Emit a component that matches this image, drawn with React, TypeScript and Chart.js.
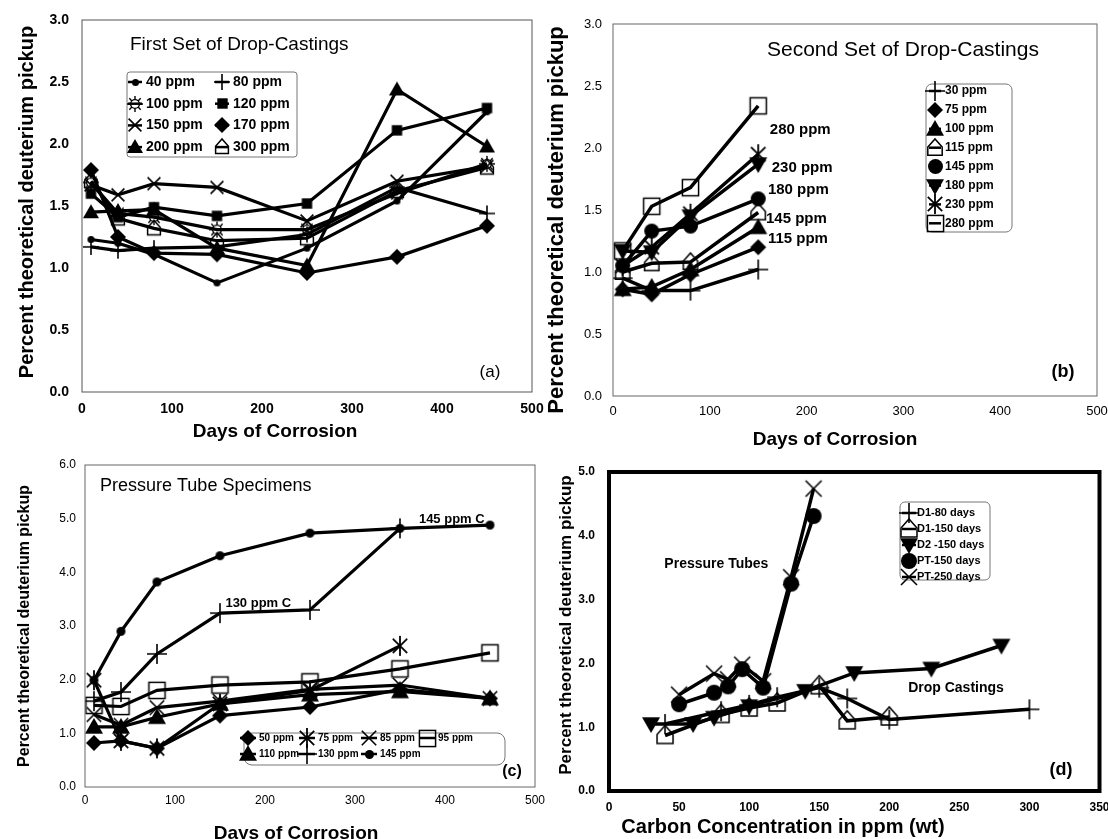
import React, { useEffect, useRef } from "react";
import { Chart, registerables } from "chart.js";

Chart.register(...registerables);

const FONT = "'Liberation Sans', Arial, Helvetica, sans-serif";

// ---------------- Panel (a): First set of drop-castings ----------------
const daysA = [10, 40, 80, 150, 250, 350, 450];
const a40ppm = [1.23, 1.2, 1.11, 0.88, 1.16, 1.54, 2.26];
const a80ppm = [1.17, 1.14, 1.16, 1.17, 1.27, 1.65, 1.44];
const a100ppm = [1.69, 1.44, 1.41, 1.31, 1.31, 1.6, 1.84];
const a120ppm = [1.6, 1.41, 1.49, 1.42, 1.52, 2.11, 2.29];
const a150ppm = [1.67, 1.59, 1.68, 1.65, 1.38, 1.7, 1.82];
const a170ppm = [1.79, 1.25, 1.12, 1.11, 0.96, 1.09, 1.34];
const a200ppm = [1.45, 1.46, 1.47, 1.16, 1.02, 2.44, 1.98];
const a300ppm = [1.7, 1.4, 1.32, 1.22, 1.24, 1.62, 1.81];
const labelsA = ["40 ppm", "80 ppm", "100 ppm", "120 ppm", "150 ppm", "170 ppm", "200 ppm", "300 ppm"];

// ---------------- Panel (b): Second set of drop-castings ----------------
const daysB = [10, 40, 80, 150];
const b30ppm = [0.95, 0.85, 0.85, 1.02];
const b75ppm = [0.86, 0.82, 0.98, 1.2];
const b100ppm = [0.86, 0.88, 1.02, 1.36];
const b115ppm = [1.0, 1.07, 1.08, 1.48];
const b145ppm = [1.05, 1.33, 1.37, 1.59];
const b180ppm = [1.17, 1.16, 1.45, 1.87];
const b230ppm = [1.05, 1.2, 1.47, 1.95];
const b280ppm = [1.17, 1.53, 1.68, 2.34];
const labelsB = ["30 ppm", "75 ppm", "100 ppm", "115 ppm", "145 ppm", "180 ppm", "230 ppm", "280 ppm"];
const annotB = ["280 ppm", "230 ppm", "180 ppm", "145 ppm", "115 ppm"];
const annotBDays = [162, 164, 160, 158, 160];
const annotBVals = [2.15, 1.84, 1.66, 1.43, 1.27];

// ---------------- Panel (c): Pressure tube specimens ----------------
const daysC = [10, 40, 80, 150, 250, 350, 450];
const c50ppm = [0.82, 0.86, 0.72, 1.33, 1.49, 1.82, 1.65];
const c75ppm = [1.99, 0.86, 0.72, 1.55, 1.8, 2.63];
const c85ppm = [1.35, 1.15, 1.48, 1.6, 1.82, 1.9, 1.65];
const c95ppm = [1.52, 1.5, 1.8, 1.9, 1.96, 2.2, 2.5];
const c110ppm = [1.12, 1.12, 1.3, 1.55, 1.72, 1.78, 1.65];
const c130ppm = [1.6, 1.77, 2.48, 3.24, 3.3, 4.82];
const c145ppm = [1.99, 2.9, 3.82, 4.31, 4.73, 4.82, 4.88];
const labelsC = ["50 ppm", "75 ppm", "85 ppm", "95 ppm", "110 ppm", "130 ppm", "145 ppm"];
const annotC = ["145 ppm C", "130 ppm C"];
const annotCDays = [371, 156];
const annotCVals = [4.99, 3.43];

// ---------------- Panel (d): pickup vs carbon concentration ----------------
const dD1d80Ppm = [40, 80, 100, 120, 150, 170, 200, 300];
const dD1d80Val = [1.05, 1.25, 1.35, 1.47, 1.62, 1.45, 1.12, 1.28];
const dD1d150Ppm = [40, 80, 100, 120, 150, 170, 200];
const dD1d150Val = [0.87, 1.2, 1.3, 1.38, 1.65, 1.1, 1.16];
const dD2d150Ppm = [30, 60, 75, 100, 140, 175, 230, 280];
const dD2d150Val = [1.05, 1.05, 1.15, 1.33, 1.57, 1.85, 1.92, 2.28];
const dPT150Ppm = [50, 75, 85, 95, 110, 130, 146];
const dPT150Val = [1.36, 1.54, 1.64, 1.91, 1.62, 3.25, 4.31];
const dPT250Ppm = [50, 75, 85, 95, 110, 130, 146];
const dPT250Val = [1.51, 1.84, 1.75, 1.98, 1.72, 3.35, 4.74];
const labelsD = ["D1-80 days", "D1-150 days", "D2 -150 days", "PT-150 days", "PT-250 days"];
const annotD = ["Pressure Tubes", "Drop Castings"];
const annotDPpm = [76.6, 247.6];
const annotDVals = [3.55, 1.62];

// ---------------- markers ----------------
function makeMarker(kind: string, r: number): HTMLCanvasElement {
  const s = Math.ceil(2 * r + 4);
  const c = document.createElement("canvas");
  c.width = s;
  c.height = s;
  const g = c.getContext("2d")!;
  const m = s / 2;
  g.fillStyle = "#000";
  g.strokeStyle = "#000";
  g.lineWidth = 1.6;
  const poly = (pts: number[][], fill: boolean) => {
    g.beginPath();
    g.moveTo(pts[0][0], pts[0][1]);
    for (let i = 1; i < pts.length; i++) g.lineTo(pts[i][0], pts[i][1]);
    g.closePath();
    if (fill) g.fill();
    else g.stroke();
  };
  switch (kind) {
    case "dot":
    case "circle":
      g.beginPath();
      g.arc(m, m, r, 0, Math.PI * 2);
      g.fill();
      break;
    case "plus":
      g.beginPath();
      g.moveTo(m - r, m);
      g.lineTo(m + r, m);
      g.moveTo(m, m - r);
      g.lineTo(m, m + r);
      g.stroke();
      break;
    case "x": {
      const d = r * 0.8;
      g.beginPath();
      g.moveTo(m - d, m - d);
      g.lineTo(m + d, m + d);
      g.moveTo(m + d, m - d);
      g.lineTo(m - d, m + d);
      g.stroke();
      break;
    }
    case "asterisk": {
      g.lineWidth = 1.8;
      const d = r * 0.72;
      g.beginPath();
      g.moveTo(m, m - r);
      g.lineTo(m, m + r);
      g.moveTo(m - d, m - d);
      g.lineTo(m + d, m + d);
      g.moveTo(m + d, m - d);
      g.lineTo(m - d, m + d);
      g.stroke();
      break;
    }
    case "sun": {
      const rr = r * 0.55;
      g.lineWidth = 1.4;
      g.beginPath();
      g.arc(m, m, rr, 0, Math.PI * 2);
      g.stroke();
      g.beginPath();
      for (let k = 0; k < 8; k++) {
        const a = (k * Math.PI) / 4;
        g.moveTo(m + rr * Math.cos(a), m + rr * Math.sin(a));
        g.lineTo(m + r * Math.cos(a), m + r * Math.sin(a));
      }
      g.stroke();
      break;
    }
    case "square": {
      const h = r * 0.8;
      g.fillRect(m - h, m - h, 2 * h, 2 * h);
      break;
    }
    case "opensquare": {
      const h = r * 0.85;
      g.lineWidth = 1.5;
      g.strokeRect(m - h, m - h, 2 * h, 2 * h);
      break;
    }
    case "diamond":
      poly([[m, m - r], [m + r, m], [m, m + r], [m - r, m]], true);
      break;
    case "triangle":
      poly([[m, m - r], [m + r, m + r * 0.75], [m - r, m + r * 0.75]], true);
      break;
    case "tridown":
      poly([[m - r, m - r * 0.75], [m + r, m - r * 0.75], [m, m + r]], true);
      break;
    case "house":
      g.lineWidth = 1.5;
      poly(
        [
          [m - 0.8 * r, m + 0.8 * r],
          [m + 0.8 * r, m + 0.8 * r],
          [m + 0.8 * r, m - 0.1 * r],
          [m, m - r],
          [m - 0.8 * r, m - 0.1 * r],
        ],
        false
      );
      break;
  }
  return c;
}

// ---------------- decoration plugin (frame, texts, legend) ----------------
const decorPlugin = {
  id: "decor",
  afterDraw(chart: any, _args: any, opts: any) {
    const ctx = chart.ctx;
    const ca = chart.chartArea;
    const xs = chart.scales.x;
    const ys = chart.scales.y;
    ctx.save();
    if (opts.frame) {
      ctx.strokeStyle = opts.frame.color;
      ctx.lineWidth = opts.frame.width;
      ctx.strokeRect(ca.left, ca.top, ca.right - ca.left, ca.bottom - ca.top);
    }
    ctx.fillStyle = "#000";
    for (const t of opts.texts || []) {
      let x = t.x;
      let y = t.y;
      if (t.data) {
        x = xs.getPixelForValue(t.x);
        y = ys.getPixelForValue(t.y);
      }
      ctx.save();
      ctx.font = t.font;
      ctx.textAlign = t.align || "center";
      ctx.textBaseline = "middle";
      ctx.translate(x, y);
      if (t.rotate) ctx.rotate(t.rotate);
      ctx.fillText(t.text, 0, 0);
      ctx.restore();
    }
    const lg = opts.legend;
    if (lg) {
      ctx.strokeStyle = lg.boxColor;
      ctx.lineWidth = 1;
      ctx.beginPath();
      const [bx, by, bw, bh] = lg.box;
      if (ctx.roundRect) ctx.roundRect(bx, by, bw, bh, lg.radius);
      else ctx.rect(bx, by, bw, bh);
      ctx.stroke();
      chart.data.datasets.forEach((ds: any, i: number) => {
        const col = i % lg.cols;
        const row = Math.floor(i / lg.cols);
        const mx = lg.colX[col];
        const my = lg.y0 + row * lg.rowH;
        ctx.strokeStyle = "#000";
        ctx.lineWidth = lg.lineW;
        ctx.beginPath();
        ctx.moveTo(mx - lg.seg, my);
        ctx.lineTo(mx + lg.seg, my);
        ctx.stroke();
        const img = ds.pointStyle;
        ctx.drawImage(img, Math.round(mx - img.width / 2), Math.round(my - img.height / 2));
        ctx.font = lg.font;
        ctx.textAlign = "left";
        ctx.textBaseline = "middle";
        ctx.fillStyle = "#000";
        ctx.fillText(ds.label, mx + lg.textDx, my);
      });
    }
    ctx.restore();
  },
};

// ---------------- config builder ----------------
const W = 1108;
const H = 839;
const YW = 40;
const XH = 30;

function buildConfig(p: any) {
  const datasets = p.series.map((s: any) => ({
    label: s.label,
    data: s.xs.map((x: number, i: number) => ({ x, y: s.ys[i] })),
    showLine: true,
    borderColor: "#000",
    backgroundColor: "#000",
    borderWidth: p.lineW,
    pointStyle: makeMarker(s.marker, s.r),
    pointRadius: 5,
    pointHoverRadius: 5,
    tension: 0,
  }));
  const tickFont = (f: any) => ({ family: FONT, size: f.size, weight: f.weight });
  return {
    type: "scatter",
    data: { datasets },
    options: {
      animation: false,
      responsive: false,
      maintainAspectRatio: false,
      events: [],
      layout: {
        padding: { left: p.L - YW, top: p.T, right: W - p.R, bottom: H - p.B - XH },
      },
      plugins: {
        legend: { display: false },
        tooltip: { enabled: false },
        decor: { frame: p.frame, texts: p.texts, legend: p.legend },
      },
      scales: {
        x: {
          type: "linear",
          position: "bottom",
          min: p.xMin,
          max: p.xMax,
          grid: { display: false, drawTicks: false },
          border: { display: false },
          ticks: {
            stepSize: p.xStep,
            autoSkip: false,
            maxRotation: 0,
            color: "#000",
            padding: p.xPad,
            font: tickFont(p.tickFont),
            callback: (v: any) => String(v),
          },
          afterFit: (s: any) => {
            s.height = XH;
            s.paddingLeft = 0;
            s.paddingRight = 0;
          },
        },
        y: {
          type: "linear",
          position: "left",
          min: p.yMin,
          max: p.yMax,
          grid: { display: false, drawTicks: false },
          border: { display: false },
          ticks: {
            stepSize: p.yStep,
            autoSkip: false,
            color: "#000",
            padding: p.yPad,
            font: tickFont(p.tickFont),
            callback: (v: any) => Number(v).toFixed(1),
          },
          afterFit: (s: any) => {
            s.width = YW;
            s.paddingTop = 0;
            s.paddingBottom = 0;
          },
        },
      },
    },
    plugins: [decorPlugin],
  };
}

const ROT = -Math.PI / 2;
const f = (w: string, s: number) => `${w} ${s}px ${FONT}`;

function panelA() {
  const kinds = ["dot", "plus", "sun", "square", "x", "diamond", "triangle", "house"];
  const sizes = [3.5, 8, 8, 6.5, 8, 8, 8, 8];
  const vals = [a40ppm, a80ppm, a100ppm, a120ppm, a150ppm, a170ppm, a200ppm, a300ppm];
  return {
    L: 82, R: 532, T: 20, B: 392,
    xMin: 0, xMax: 500, xStep: 100, yMin: 0, yMax: 3, yStep: 0.5,
    tickFont: { size: 14, weight: "bold" }, xPad: 9, yPad: 13, lineW: 3.2,
    frame: { color: "#555", width: 1 },
    series: labelsA.map((label, i) => ({ label, xs: daysA, ys: vals[i], marker: kinds[i], r: sizes[i] })),
    texts: [
      { text: "First Set of Drop-Castings", x: 130, y: 45, align: "left", font: f("normal", 19) },
      { text: "(a)", x: 490, y: 372, font: f("normal", 17) },
      { text: "Days of Corrosion", x: 275, y: 432, font: f("bold", 19) },
      { text: "Percent theoretical deuterium pickup", x: 27, y: 202, rotate: ROT, font: f("bold", 20) },
    ],
    legend: {
      box: [127, 72, 170, 85], radius: 3, boxColor: "#777",
      cols: 2, colX: [135, 222], y0: 82, rowH: 21.7, seg: 7, textDx: 11, lineW: 2.5,
      font: f("bold", 14),
    },
  };
}

function panelB() {
  const kinds = ["plus", "diamond", "triangle", "house", "circle", "tridown", "asterisk", "opensquare"];
  const sizes = [10, 8, 9, 9, 7.5, 9, 10, 9.5];
  const vals = [b30ppm, b75ppm, b100ppm, b115ppm, b145ppm, b180ppm, b230ppm, b280ppm];
  return {
    L: 613, R: 1097, T: 24, B: 396,
    xMin: 0, xMax: 500, xStep: 100, yMin: 0, yMax: 3, yStep: 0.5,
    tickFont: { size: 13, weight: "normal" }, xPad: 8, yPad: 11, lineW: 3.5,
    frame: { color: "#666", width: 1 },
    series: labelsB.map((label, i) => ({ label, xs: daysB, ys: vals[i], marker: kinds[i], r: sizes[i] })),
    texts: [
      { text: "Second Set of Drop-Castings", x: 767, y: 50, align: "left", font: f("normal", 21) },
      { text: "(b)", x: 1063, y: 372, font: f("bold", 18) },
      { text: "Days of Corrosion", x: 835, y: 440, font: f("bold", 19) },
      { text: "Percent theoretical deuterium pickup", x: 557, y: 220, rotate: ROT, font: f("bold", 22) },
      ...annotB.map((text, i) => ({
        text, x: annotBDays[i], y: annotBVals[i], data: true, align: "left", font: f("bold", 15),
      })),
    ],
    legend: {
      box: [926, 84, 86, 148], radius: 6, boxColor: "#777",
      cols: 1, colX: [935], y0: 91, rowH: 18.9, seg: 6, textDx: 10, lineW: 2.5,
      font: f("bold", 12),
    },
  };
}

function panelC() {
  const kinds = ["diamond", "asterisk", "x", "opensquare", "triangle", "plus", "dot"];
  const sizes = [8, 10, 9, 9.5, 9, 10, 4.5];
  const vals = [c50ppm, c75ppm, c85ppm, c95ppm, c110ppm, c130ppm, c145ppm];
  return {
    L: 85, R: 535, T: 465, B: 787,
    xMin: 0, xMax: 500, xStep: 100, yMin: 0, yMax: 6, yStep: 1,
    tickFont: { size: 12, weight: "normal" }, xPad: 6, yPad: 9, lineW: 3.2,
    frame: { color: "#666", width: 1 },
    series: labelsC.map((label, i) => ({
      label, xs: daysC.slice(0, vals[i].length), ys: vals[i], marker: kinds[i], r: sizes[i],
    })),
    texts: [
      { text: "Pressure Tube Specimens", x: 100, y: 486, align: "left", font: f("normal", 18) },
      { text: "(c)", x: 512, y: 772, font: f("bold", 16) },
      { text: "Days of Corrosion", x: 296, y: 834, font: f("bold", 19) },
      { text: "Percent theoretical deuterium pickup", x: 25, y: 626, rotate: ROT, font: f("bold", 16) },
      ...annotC.map((text, i) => ({
        text, x: annotCDays[i], y: annotCVals[i], data: true, align: "left", font: f("bold", 13),
      })),
    ],
    legend: {
      box: [244, 733, 261, 32], radius: 8, boxColor: "#777",
      cols: 4, colX: [248, 307, 369, 427], y0: 738, rowH: 16, seg: 8, textDx: 11, lineW: 2.5,
      font: f("bold", 10),
    },
  };
}

function panelD() {
  const kinds = ["plus", "house", "tridown", "circle", "x"];
  const sizes = [10, 10, 9, 8, 10];
  const xs = [dD1d80Ppm, dD1d150Ppm, dD2d150Ppm, dPT150Ppm, dPT250Ppm];
  const ys = [dD1d80Val, dD1d150Val, dD2d150Val, dPT150Val, dPT250Val];
  return {
    L: 609, R: 1100, T: 472, B: 791,
    xMin: 0, xMax: 350, xStep: 50, yMin: 0, yMax: 5, yStep: 1,
    tickFont: { size: 12, weight: "bold" }, xPad: 9, yPad: 14, lineW: 3.5,
    frame: { color: "#000", width: 4 },
    series: labelsD.map((label, i) => ({ label, xs: xs[i], ys: ys[i], marker: kinds[i], r: sizes[i] })),
    texts: [
      { text: "(d)", x: 1061, y: 770, font: f("bold", 18) },
      { text: "Carbon Concentration in ppm (wt)", x: 783, y: 827, font: f("bold", 20) },
      { text: "Percent theoretical deuterium pickup", x: 566, y: 625, rotate: ROT, font: f("bold", 17) },
      ...annotD.map((text, i) => ({
        text, x: annotDPpm[i], y: annotDVals[i], data: true, align: "center", font: f("bold", 14),
      })),
    ],
    legend: {
      box: [900, 502, 90, 78], radius: 5, boxColor: "#777",
      cols: 1, colX: [909], y0: 513, rowH: 16, seg: 7, textDx: 8, lineW: 2.5,
      font: f("bold", 11),
    },
  };
}

function Panel({ build }: { build: () => any }) {
  const ref = useRef<HTMLCanvasElement>(null);
  useEffect(() => {
    const chart = new Chart(ref.current as HTMLCanvasElement, buildConfig(build()) as any);
    return () => chart.destroy();
  }, [build]);
  return (
    <canvas
      ref={ref}
      width={W}
      height={H}
      style={{ position: "absolute", left: 0, top: 0, width: W, height: H }}
    />
  );
}

export default function App() {
  return (
    <div
      style={{
        position: "fixed",
        left: 0,
        top: 0,
        width: W,
        height: H,
        background: "#fff",
        overflow: "hidden",
      }}
    >
      <Panel build={panelA} />
      <Panel build={panelB} />
      <Panel build={panelC} />
      <Panel build={panelD} />
    </div>
  );
}
